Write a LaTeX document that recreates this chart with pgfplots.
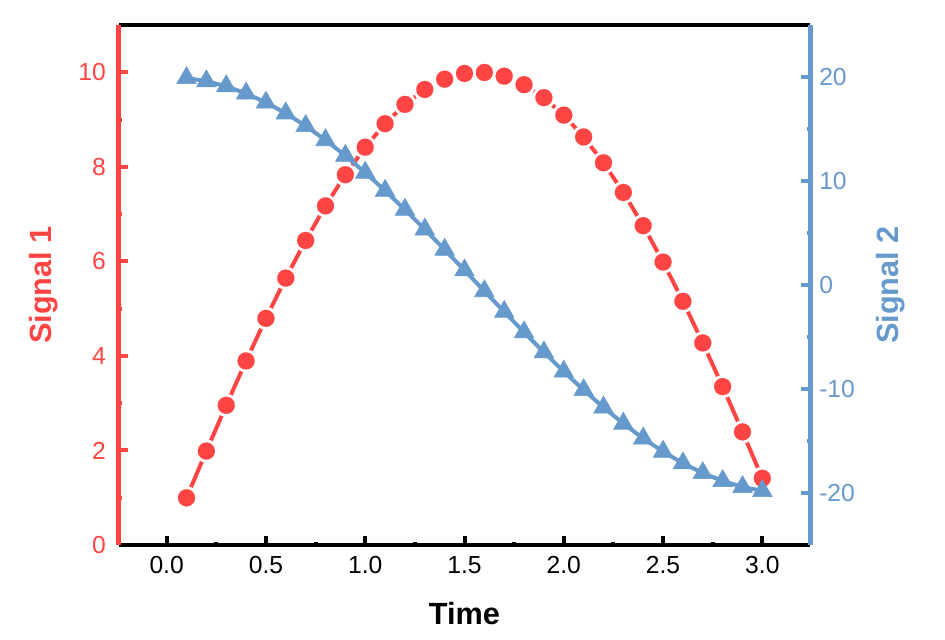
\documentclass[border=0pt]{standalone}
\usepackage{fontspec}
\setmainfont{Liberation Sans}
\usepackage{pgfplots}
\usepackage{pgfplotstable}
\pgfplotsset{compat=1.18}
\definecolor{sigred}{RGB}{255,68,68}
\definecolor{sigblue}{RGB}{102,153,204}

\pgfplotstableread{
t s1 s2
0.1 0.998 19.900
0.2 1.987 19.601
0.3 2.955 19.107
0.4 3.894 18.421
0.5 4.794 17.552
0.6 5.646 16.507
0.7 6.442 15.297
0.8 7.174 13.934
0.9 7.833 12.432
1.0 8.415 10.806
1.1 8.912 9.072
1.2 9.320 7.247
1.3 9.636 5.350
1.4 9.854 3.399
1.5 9.975 1.415
1.6 9.996 -0.584
1.7 9.917 -2.577
1.8 9.738 -4.544
1.9 9.463 -6.466
2.0 9.093 -8.323
2.1 8.632 -10.097
2.2 8.085 -11.770
2.3 7.457 -13.325
2.4 6.755 -14.748
2.5 5.985 -16.023
2.6 5.155 -17.138
2.7 4.274 -18.081
2.8 3.350 -18.843
2.9 2.392 -19.417
3.0 1.411 -19.800
}\datatable

\begin{document}
\begin{tikzpicture}
\pgfplotsset{
  common/.style={
    at={(0,0)}, anchor=south west,
    scale only axis, width=518.25pt, height=390pt,
    xmin=-0.24, xmax=3.24,
    tick align=inside,
    major tick length=6.5pt, minor tick length=2.5pt,
    /pgf/number format/assume math mode=true,
    ticklabel style={font=\fontsize{18.5}{21}\selectfont},
    clip=false,
  },
}
\begin{axis}[common,
  ymin=0, ymax=11,
  separate axis lines,
  axis x line=box, axis y line*=left,
  x axis line style={black, line width=3pt, -},
  y axis line style={sigred, line width=3.75pt, -},
  xtick={0,0.5,...,3.0}, minor x tick num=1,
  ytick={0,2,...,10}, minor y tick num=1,
  xtick pos=left, ytick pos=left,
  xtick style={black, line width=3pt},
  ytick style={sigred, line width=3pt},
  xticklabel style={anchor=center, inner sep=0pt, yshift=-15pt, black},
  yticklabel style={anchor=east, inner sep=0pt, xshift=-9.75pt, text=sigred},
  xticklabel={\pgfmathprintnumber[fixed, fixed zerofill, precision=1]{\tick}},
  xlabel={Time}, ylabel={Signal 1},
  every axis x label/.style={at={(axis description cs:0.5,-0.131)}, anchor=center,
     font=\fontsize{23}{26}\selectfont\bfseries, text=black},
  every axis y label/.style={at={(axis description cs:-0.109,0.5)}, anchor=center, rotate=90,
     font=\fontsize{23}{26}\selectfont\bfseries, text=sigred},
]
\addplot[sigred, line width=3pt, no markers] table[x=t, y=s1] {\datatable};
\addplot[white, only marks, mark=*, mark size=8.6pt, mark options={draw=white, fill=white, line width=0.1pt}] table[x=t, y=s1] {\datatable};
\addplot[sigred, only marks, mark=*, mark size=6.4pt, mark options={draw=sigred, fill=sigred, line width=0.1pt}] table[x=t, y=s1] {\datatable};
\end{axis}
\begin{axis}[common,
  ymin=-25, ymax=25,
  axis x line=none, axis y line*=right,
  y axis line style={sigblue, line width=3.75pt, -},
  ytick={-20,-10,...,20}, minor y tick num=1,
  ytick pos=right,
  ytick style={sigblue, line width=3pt},
  yticklabel style={anchor=west, inner sep=0pt, xshift=6.75pt, text=sigblue},
  ylabel={Signal 2},
  every axis y label/.style={at={(axis description cs:1.116,0.5)}, anchor=center, rotate=90,
     font=\fontsize{23}{26}\selectfont\bfseries, text=sigblue},
]
\addplot[sigblue, line width=3pt, mark=triangle*, mark size=8.5pt,
  mark options={draw=sigblue, fill=sigblue, line width=0.4pt, solid}] table[x=t, y=s2] {\datatable};
\end{axis}
\pgfresetboundingbox
\useasboundingbox (-89.25pt,-70.5pt) rectangle (619.5pt,408.75pt);
\end{tikzpicture}
\end{document}
